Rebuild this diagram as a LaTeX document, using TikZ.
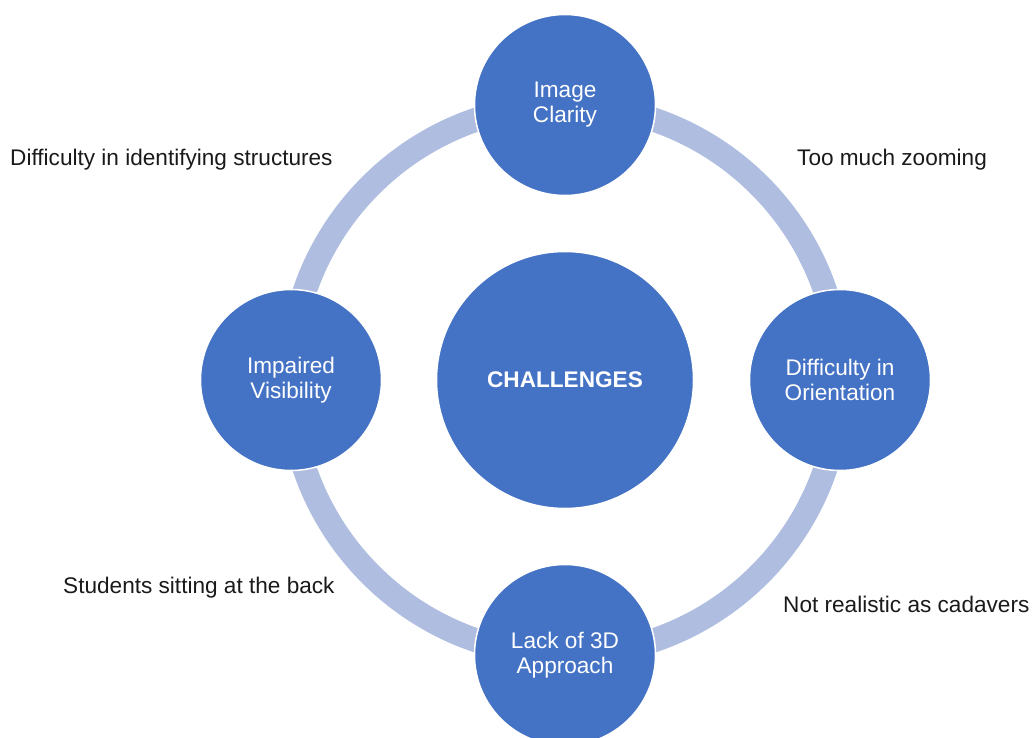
\documentclass[tikz,border=0pt]{standalone}
\usepackage{fontspec}
\setmainfont{Liberation Sans}
\definecolor{nodeblue}{HTML}{4472C4}
\definecolor{ringblue}{HTML}{AFBDE0}
\definecolor{notetext}{HTML}{1A1A1A}
\begin{document}
\begin{tikzpicture}[x=1pt,y=-1pt,
  bubble/.style={circle, fill=nodeblue, draw=white, line width=1.5pt,
    inner sep=0pt, text=white, align=center,
    font=\fontsize{22.6}{25}\selectfont},
  hub/.style={bubble, minimum size=257pt, font=\fontsize{22.6}{25}\selectfont\bfseries},
  spoke/.style={bubble, minimum size=181pt},
  note/.style={anchor=base west, inner sep=0pt, text=notetext,
    font=\fontsize{22.6}{25}\selectfont},
  ring/.style={draw=ringblue, line width=24pt}]
\useasboundingbox (0,0) rectangle (1033,738);

% centre hub and the ring through the four spokes
\coordinate (c) at (565,380);
\draw[ring] (c) circle[radius=275];
\node[hub] (hub) at (c) {CHALLENGES};

% the four challenge bubbles on the ring
\node[spoke] (top)    at (565,105) {Image\\Clarity};
\node[spoke] (right)  at (840,380) {Difficulty in\\Orientation};
\node[spoke] (bottom) at (565,655) {Lack of 3D\\Approach};
\node[spoke] (left)   at (291,380) {Impaired\\Visibility};

% explanatory notes between the bubbles
\node[note] (n1) at (10,166)  {Difficulty in identifying structures};
\node[note] (n2) at (797,166) {Too much zooming};
\node[note] (n3) at (63,593)  {Students sitting at the back};
\node[note] (n4) at (783,612) {Not realistic as cadavers};
\end{tikzpicture}
\end{document}
